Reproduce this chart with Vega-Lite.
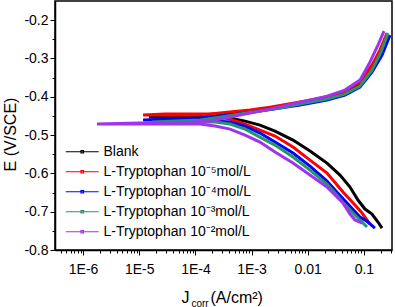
{
  "$schema": "https://vega.github.io/schema/vega-lite/v6.json",
  "autosize": "none",
  "width": 337,
  "height": 249,
  "padding": {"left": 55, "top": 1, "right": 3, "bottom": 57},
  "config": {
    "font": "Liberation Sans",
    "view": {"stroke": "black", "strokeWidth": 1.5},
    "axis": {"labelFont": "Liberation Sans", "titleFont": "Liberation Sans", "labelColor": "black", "titleColor": "black", "domainColor": "black", "tickColor": "black", "grid": false, "titleFontWeight": "normal"},
    "legend": {"labelFont": "Liberation Sans"}
  },
  "data": {"values": [
    {"s":"B","o":1,"J":0.210,"E":-0.7427},{"s":"B","o":2,"J":0.178,"E":-0.7270},{"s":"B","o":3,"J":0.139,"E":-0.7061},{"s":"B","o":4,"J":0.1045,"E":-0.6931},{"s":"B","o":5,"J":0.0783,"E":-0.6696},{"s":"B","o":6,"J":0.0565,"E":-0.6357},{"s":"B","o":7,"J":0.0375,"E":-0.6044},{"s":"B","o":8,"J":0.0220,"E":-0.5731},{"s":"B","o":9,"J":0.01096,"E":-0.5418},{"s":"B","o":10,"J":0.00546,"E":-0.5131},{"s":"B","o":11,"J":0.00261,"E":-0.4896},{"s":"B","o":12,"J":0.00141,"E":-0.4739},{"s":"B","o":13,"J":0.000764,"E":-0.4635},{"s":"B","o":14,"J":0.000413,"E":-0.4557},{"s":"B","o":15,"J":0.000223,"E":-0.4531},{"s":"B","o":16,"J":0.000121,"E":-0.4505},{"s":"B","o":17,"J":0.0000531,"E":-0.4531},{"s":"B","o":18,"J":0.0000234,"E":-0.4531},{"s":"B","o":19,"J":0.0000149,"E":-0.4531},{"s":"B","o":20,"J":0.0000352,"E":-0.4505},{"s":"B","o":21,"J":0.000121,"E":-0.4478},{"s":"B","o":22,"J":0.000223,"E":-0.4452},{"s":"B","o":23,"J":0.000413,"E":-0.4426},{"s":"B","o":24,"J":0.000938,"E":-0.4374},{"s":"B","o":25,"J":0.00213,"E":-0.4296},{"s":"B","o":26,"J":0.00728,"E":-0.4192},{"s":"B","o":27,"J":0.0220,"E":-0.4035},{"s":"B","o":28,"J":0.0460,"E":-0.3905},{"s":"B","o":29,"J":0.0851,"E":-0.3670},{"s":"B","o":30,"J":0.139,"E":-0.3252},{"s":"B","o":31,"J":0.193,"E":-0.2835},{"s":"B","o":32,"J":0.258,"E":-0.2391},
    {"s":"T5","o":1,"J":0.128,"E":-0.7322},{"s":"T5","o":2,"J":0.0925,"E":-0.7035},{"s":"T5","o":3,"J":0.0693,"E":-0.6827},{"s":"T5","o":4,"J":0.0424,"E":-0.6487},{"s":"T5","o":5,"J":0.0220,"E":-0.5992},{"s":"T5","o":6,"J":0.01096,"E":-0.5653},{"s":"T5","o":7,"J":0.00546,"E":-0.5313},{"s":"T5","o":8,"J":0.00261,"E":-0.5026},{"s":"T5","o":9,"J":0.00141,"E":-0.4870},{"s":"T5","o":10,"J":0.000764,"E":-0.4713},{"s":"T5","o":11,"J":0.000413,"E":-0.4583},{"s":"T5","o":12,"J":0.000223,"E":-0.4505},{"s":"T5","o":13,"J":0.000121,"E":-0.4478},{"s":"T5","o":14,"J":0.0000531,"E":-0.4478},{"s":"T5","o":15,"J":0.0000234,"E":-0.4478},{"s":"T5","o":16,"J":0.0000117,"E":-0.4478},{"s":"T5","o":17,"J":0.0000287,"E":-0.4452},{"s":"T5","o":18,"J":0.0000800,"E":-0.4452},{"s":"T5","o":19,"J":0.000182,"E":-0.4452},{"s":"T5","o":20,"J":0.000413,"E":-0.4400},{"s":"T5","o":21,"J":0.000938,"E":-0.4348},{"s":"T5","o":22,"J":0.00213,"E":-0.4270},{"s":"T5","o":23,"J":0.00728,"E":-0.4139},{"s":"T5","o":24,"J":0.0220,"E":-0.4009},{"s":"T5","o":25,"J":0.0460,"E":-0.3852},{"s":"T5","o":26,"J":0.0851,"E":-0.3618},{"s":"T5","o":27,"J":0.139,"E":-0.3174},{"s":"T5","o":28,"J":0.193,"E":-0.2783},{"s":"T5","o":29,"J":0.258,"E":-0.2339},
    {"s":"T4","o":1,"J":0.157,"E":-0.7427},{"s":"T4","o":2,"J":0.118,"E":-0.7270},{"s":"T4","o":3,"J":0.0851,"E":-0.7140},{"s":"T4","o":4,"J":0.0500,"E":-0.6774},{"s":"T4","o":5,"J":0.0305,"E":-0.6435},{"s":"T4","o":6,"J":0.0220,"E":-0.6200},{"s":"T4","o":7,"J":0.01096,"E":-0.5809},{"s":"T4","o":8,"J":0.00546,"E":-0.5470},{"s":"T4","o":9,"J":0.00261,"E":-0.5183},{"s":"T4","o":10,"J":0.00141,"E":-0.4948},{"s":"T4","o":11,"J":0.000764,"E":-0.4765},{"s":"T4","o":12,"J":0.000413,"E":-0.4661},{"s":"T4","o":13,"J":0.000223,"E":-0.4635},{"s":"T4","o":14,"J":0.000121,"E":-0.4609},{"s":"T4","o":15,"J":0.0000531,"E":-0.4609},{"s":"T4","o":16,"J":0.0000234,"E":-0.4609},{"s":"T4","o":17,"J":0.0000117,"E":-0.4609},{"s":"T4","o":18,"J":0.0000352,"E":-0.4583},{"s":"T4","o":19,"J":0.000121,"E":-0.4557},{"s":"T4","o":20,"J":0.000274,"E":-0.4505},{"s":"T4","o":21,"J":0.000622,"E":-0.4452},{"s":"T4","o":22,"J":0.00141,"E":-0.4374},{"s":"T4","o":23,"J":0.00321,"E":-0.4296},{"s":"T4","o":24,"J":0.00728,"E":-0.4218},{"s":"T4","o":25,"J":0.0220,"E":-0.4087},{"s":"T4","o":26,"J":0.0460,"E":-0.3957},{"s":"T4","o":27,"J":0.0851,"E":-0.3748},{"s":"T4","o":28,"J":0.139,"E":-0.3357},{"s":"T4","o":29,"J":0.210,"E":-0.2913},{"s":"T4","o":30,"J":0.291,"E":-0.2391},
    {"s":"T3","o":1,"J":0.1135,"E":-0.7400},{"s":"T3","o":2,"J":0.0851,"E":-0.7218},{"s":"T3","o":3,"J":0.0500,"E":-0.6879},{"s":"T3","o":4,"J":0.0305,"E":-0.6513},{"s":"T3","o":5,"J":0.0220,"E":-0.6279},{"s":"T3","o":6,"J":0.01096,"E":-0.5913},{"s":"T3","o":7,"J":0.00546,"E":-0.5574},{"s":"T3","o":8,"J":0.00261,"E":-0.5261},{"s":"T3","o":9,"J":0.00141,"E":-0.5052},{"s":"T3","o":10,"J":0.000764,"E":-0.4844},{"s":"T3","o":11,"J":0.000413,"E":-0.4713},{"s":"T3","o":12,"J":0.000223,"E":-0.4661},{"s":"T3","o":13,"J":0.000121,"E":-0.4661},{"s":"T3","o":14,"J":0.0000531,"E":-0.4661},{"s":"T3","o":15,"J":0.0000169,"E":-0.4661},{"s":"T3","o":16,"J":0.0000432,"E":-0.4635},{"s":"T3","o":17,"J":0.000121,"E":-0.4609},{"s":"T3","o":18,"J":0.000274,"E":-0.4531},{"s":"T3","o":19,"J":0.000622,"E":-0.4452},{"s":"T3","o":20,"J":0.00141,"E":-0.4374},{"s":"T3","o":21,"J":0.00321,"E":-0.4296},{"s":"T3","o":22,"J":0.00728,"E":-0.4192},{"s":"T3","o":23,"J":0.0220,"E":-0.4061},{"s":"T3","o":24,"J":0.0460,"E":-0.3931},{"s":"T3","o":25,"J":0.0851,"E":-0.3722},{"s":"T3","o":26,"J":0.139,"E":-0.3304},{"s":"T3","o":27,"J":0.201,"E":-0.2835},{"s":"T3","o":28,"J":0.268,"E":-0.2339},
    {"s":"T2","o":1,"J":0.0925,"E":-0.7296},{"s":"T2","o":2,"J":0.0693,"E":-0.7218},{"s":"T2","o":3,"J":0.0565,"E":-0.7061},{"s":"T2","o":4,"J":0.0424,"E":-0.6774},{"s":"T2","o":5,"J":0.0220,"E":-0.6357},{"s":"T2","o":6,"J":0.01096,"E":-0.6044},{"s":"T2","o":7,"J":0.00546,"E":-0.5731},{"s":"T2","o":8,"J":0.00261,"E":-0.5444},{"s":"T2","o":9,"J":0.00141,"E":-0.5183},{"s":"T2","o":10,"J":0.000764,"E":-0.5000},{"s":"T2","o":11,"J":0.000413,"E":-0.4844},{"s":"T2","o":12,"J":0.000223,"E":-0.4765},{"s":"T2","o":13,"J":0.000121,"E":-0.4713},{"s":"T2","o":14,"J":0.0000352,"E":-0.4713},{"s":"T2","o":15,"J":0.00000684,"E":-0.4713},{"s":"T2","o":16,"J":0.00000177,"E":-0.4713},{"s":"T2","o":17,"J":0.0000103,"E":-0.4687},{"s":"T2","o":18,"J":0.0000531,"E":-0.4687},{"s":"T2","o":19,"J":0.000182,"E":-0.4635},{"s":"T2","o":20,"J":0.000413,"E":-0.4531},{"s":"T2","o":21,"J":0.000938,"E":-0.4426},{"s":"T2","o":22,"J":0.00213,"E":-0.4322},{"s":"T2","o":23,"J":0.00728,"E":-0.4139},{"s":"T2","o":24,"J":0.0220,"E":-0.3983},{"s":"T2","o":25,"J":0.0460,"E":-0.3826},{"s":"T2","o":26,"J":0.0851,"E":-0.3565},{"s":"T2","o":27,"J":0.128,"E":-0.3096},{"s":"T2","o":28,"J":0.178,"E":-0.2652},{"s":"T2","o":29,"J":0.228,"E":-0.2287}
  ]},
  "layer": [
    {
      "mark": {"type": "line", "strokeWidth": 3, "clip": true},
      "encoding": {
        "x": {"field": "J", "type": "quantitative",
          "scale": {"type": "log", "domain": [3.1623e-7, 0.31623], "nice": false},
          "axis": {
            "orient": "bottom",
            "values": [4e-7,5e-7,6e-7,7e-7,8e-7,9e-7,1e-6,2e-6,3e-6,4e-6,5e-6,6e-6,7e-6,8e-6,9e-6,1e-5,2e-5,3e-5,4e-5,5e-5,6e-5,7e-5,8e-5,9e-5,1e-4,2e-4,3e-4,4e-4,5e-4,6e-4,7e-4,8e-4,9e-4,1e-3,2e-3,3e-3,4e-3,5e-3,6e-3,7e-3,8e-3,9e-3,0.01,0.02,0.03,0.04,0.05,0.06,0.07,0.08,0.09,0.1,0.2,0.3],
            "labelExpr": "abs(log(datum.value)/LN10 - round(log(datum.value)/LN10)) > 0.001 ? '' : (datum.value > 0.05 ? '0.1' : (datum.value > 0.005 ? '0.01' : '1E' + round(log(datum.value)/LN10)))",
            "labelOverlap": false,
            "labelFlush": false,
            "labelFontSize": 14,
            "labelPadding": 7,
            "tickSize": {"condition": {"test": "abs(log(datum.value)/LN10 - round(log(datum.value)/LN10)) < 0.001", "value": 5}, "value": 3},
            "tickWidth": 1,
            "domainWidth": 1.5,
            "title": "J",
            "titleFontSize": 16,
            "titleBaseline": "alphabetic",
            "titleAlign": "center",
            "titleX": 130,
            "titleY": 52
          }
        },
        "y": {"field": "E", "type": "quantitative",
          "scale": {"domain": [-0.8, -0.15], "nice": false, "zero": false},
          "axis": {
            "values": [-0.8,-0.75,-0.7,-0.65,-0.6,-0.55,-0.5,-0.45,-0.4,-0.35,-0.3,-0.25,-0.2],
            "labelExpr": "abs(datum.value*10 - round(datum.value*10)) > 0.01 ? '' : '-' + format(abs(datum.value), '.1f')",
            "labelOverlap": false,
            "labelFlush": false,
            "labelFontSize": 14,
            "labelPadding": 2,
            "tickSize": {"condition": {"test": "abs(datum.value*10 - round(datum.value*10)) < 0.01", "value": 5}, "value": 3},
            "tickWidth": 1,
            "domainWidth": 1.5,
            "title": "E (V/SCE)",
            "titleFontSize": 16,
            "titleAngle": -90,
            "titleBaseline": "alphabetic",
            "titleAlign": "center",
            "titleX": -40,
            "titleY": 133
          }
        },
        "color": {"field": "s", "type": "nominal",
          "scale": {"domain": ["B","T5","T4","T3","T2"], "range": ["#000000","#ff0000","#0000ff","#23966a","#a033f0"]},
          "legend": {
            "orient": "none",
            "legendX": 18.25,
            "legendY": 141.75,
            "title": null,
            "padding": 0,
            "labelExpr": "datum.value == 'B' ? 'Blank' : datum.value == 'T5' ? 'L-Tryptophan 10⁻⁵mol/L' : datum.value == 'T4' ? 'L-Tryptophan 10⁻⁴mol/L' : datum.value == 'T3' ? 'L-Tryptophan 10⁻³mol/L' : 'L-Tryptophan 10⁻²mol/L'",
            "labelFontSize": 14,
            "labelColor": "black",
            "labelOffset": 12.25,
            "symbolType": "M-2,0H2M-0.15,-0.15H0.15V0.15H-0.15Z",
            "symbolSize": 272,
            "symbolStrokeWidth": 1.2,
            "rowPadding": 4
          }
        },
        "order": {"field": "o", "type": "quantitative"}
      }
    },
    {
      "mark": {"type": "point", "opacity": 0},
      "encoding": {
        "x": {"field": "J", "type": "quantitative",
          "axis": {"orient": "bottom", "labels": false, "ticks": false, "domain": false, "title": "corr", "titleFontSize": 10, "titleBaseline": "alphabetic", "titleAlign": "center", "titleX": 144.5, "titleY": 56}
        }
      }
    },
    {
      "mark": {"type": "point", "opacity": 0},
      "encoding": {
        "x": {"field": "J", "type": "quantitative",
          "axis": {"orient": "bottom", "labels": false, "ticks": false, "domain": false, "title": "(A/cm²)", "titleFontSize": 16, "titleBaseline": "alphabetic", "titleAlign": "left", "titleX": 155, "titleY": 52}
        }
      }
    }
  ],
  "resolve": {"axis": {"x": "independent"}}
}
